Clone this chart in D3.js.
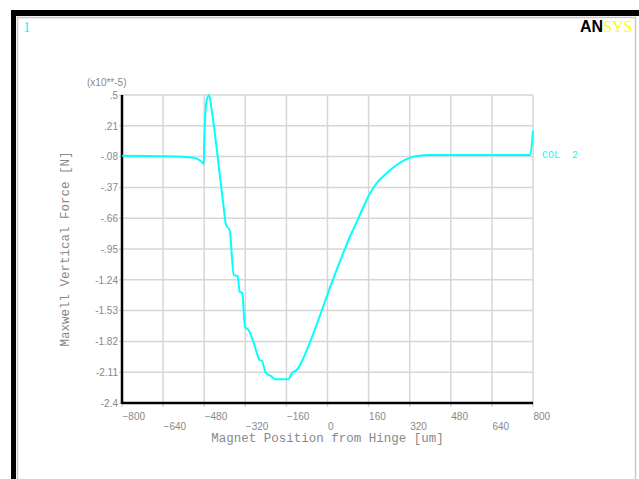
<!DOCTYPE html>
<html>
<head>
<meta charset="utf-8">
<script src="https://cdn.jsdelivr.net/npm/d3@7"></script>
<style>
  body { margin: 0; background: #fff; }
  svg { display: block; }
</style>
</head>
<body>
<div class="chart"></div>
<script>
var svgWidth = 639;
var svgHeight = 479;

// data (force in units of 1e-5 N)
var positions = [-800, -640, -522, -490, -481, -480, -470, -461, -451, -406, -395, -381, -365, -350, -342, -332,
  -321, -307, -287, -264, -255, -241, -220, -201, -153, -139, -120, -62, -23, 12, 61, 88, 114, 142, 162,
  191, 230, 269, 308, 347, 399, 788, 800];
var forces = [-0.072, -0.077, -0.09, -0.128, -0.15, 0.06, 0.453, 0.5, 0.359, -0.52, -0.724, -0.771, -1.195, -1.204,
  -1.352, -1.364, -1.682, -1.713, -1.835, -1.995, -2.004, -2.115, -2.146, -2.177, -2.177, -2.12, -2.089, -1.788,
  -1.534, -1.298, -0.99, -0.83, -0.693, -0.543, -0.442, -0.331, -0.237, -0.159, -0.103, -0.074, -0.065,
  -0.065, 0.164];

var xTicks = [-800, -640, -480, -320, -160, 0, 160, 320, 480, 640, 800];
var yTicks = [0.5, 0.21, -0.08, -0.37, -0.66, -0.95, -1.24, -1.53, -1.82, -2.11, -2.4];
var yTickLabels = [".5", ".21", "-.08", "-.37", "-.66", "-.95", "-1.24", "-1.53", "-1.82", "-2.11", "-2.4"];

var margin = { top: 95, right: 106, bottom: 76, left: 122 };
var width = svgWidth - margin.left - margin.right;
var height = svgHeight - margin.top - margin.bottom;

var svg = d3.select(".chart")
  .append("svg")
  .attr("width", svgWidth)
  .attr("height", svgHeight);

// frame like the ANSYS window
svg.append("rect").attr("x", 11).attr("y", 10).attr("width", svgWidth - 11).attr("height", svgHeight - 10).attr("fill", "#000");
svg.append("rect").attr("x", 16).attr("y", 16).attr("width", svgWidth - 16).attr("height", svgHeight - 16).attr("fill", "#fff");
svg.append("rect").attr("x", 17.5).attr("y", 17.5).attr("width", 618).attr("height", 480)
  .attr("fill", "none").attr("stroke", "#c8c8c8").attr("stroke-width", 1.5);

svg.append("text").attr("x", 23).attr("y", 32).text("1")
  .style("font", "15px 'Liberation Serif'").attr("fill", "#00ffff");
var logo = svg.append("text").attr("x", 580).attr("y", 32);
logo.append("tspan").text("AN").style("font", "bold 16px 'Liberation Sans'").attr("fill", "#000");
logo.append("tspan").text("SYS").style("font", "16px 'Liberation Serif'").attr("fill", "#ffff00");

var chartGroup = svg.append("g")
  .attr("transform", `translate(${margin.left}, ${margin.top})`);

var xScale = d3.scaleLinear().domain([-800, 800]).range([0, width]);
var yScale = d3.scaleLinear().domain([-2.4, 0.5]).range([height, 0]);

// grid
chartGroup.selectAll("line.vgrid")
  .data(xTicks)
  .enter()
  .append("line")
  .attr("x1", d => xScale(d)).attr("x2", d => xScale(d))
  .attr("y1", 0).attr("y2", height + 4)
  .attr("stroke", "#d6d6d6").attr("stroke-width", 1.5);

chartGroup.selectAll("line.hgrid")
  .data(yTicks)
  .enter()
  .append("line")
  .attr("x1", -3).attr("x2", width)
  .attr("y1", d => yScale(d)).attr("y2", d => yScale(d))
  .attr("stroke", "#d6d6d6").attr("stroke-width", 1.5);

// axes (labels only, lines drawn below)
var leftAxis = d3.axisLeft(yScale).tickValues(yTicks).tickSize(0).tickPadding(4)
  .tickFormat((d, i) => yTickLabels[i]);
var yAxisG = chartGroup.append("g").call(leftAxis);
yAxisG.select(".domain").remove();
yAxisG.selectAll("text").style("font", "10px 'Liberation Sans'").attr("fill", "#888");

var bottomAxis = d3.axisBottom(xScale).tickValues(xTicks).tickSize(0);
var xAxisG = chartGroup.append("g").attr("transform", `translate(0, ${height})`).call(bottomAxis);
xAxisG.select(".domain").remove();
xAxisG.selectAll("text")
  .attr("text-anchor", "start")
  .attr("dy", null)
  .attr("y", (d, i) => i % 2 === 0 ? 17 : 27)
  .style("font", "10px 'Liberation Sans'").attr("fill", "#888");

chartGroup.append("line").attr("x1", 0).attr("x2", 0).attr("y1", 0).attr("y2", height + 1)
  .attr("stroke", "#000").attr("stroke-width", 2.5);
chartGroup.append("line").attr("x1", 0).attr("x2", width).attr("y1", height).attr("y2", height)
  .attr("stroke", "#000").attr("stroke-width", 2.5);

// curve
var line = d3.line()
  .x((d, i) => xScale(positions[i]))
  .y(d => yScale(d))
  .curve(d3.curveMonotoneX);

chartGroup.append("path")
  .datum(forces)
  .attr("d", line)
  .attr("fill", "none")
  .attr("stroke", "#00ffff")
  .attr("stroke-width", 2)
  .attr("stroke-linejoin", "round");

// labels
chartGroup.append("text")
  .attr("x", -35).attr("y", -9)
  .text("(x10**-5)")
  .style("font", "10px 'Liberation Sans'").attr("fill", "#888");

chartGroup.append("text")
  .attr("x", width + 9).attr("y", yScale(-0.08) + 1)
  .attr("xml:space", "preserve")
  .style("white-space", "pre")
  .text("COL  2")
  .style("font", "10px 'Liberation Mono'").attr("fill", "#00ffff");

chartGroup.append("text")
  .attr("transform", `translate(${width / 2}, ${height + 39})`)
  .attr("text-anchor", "middle")
  .text("Magnet Position from Hinge [um]")
  .style("font", "12.5px 'Liberation Mono'").attr("fill", "#888");

chartGroup.append("text")
  .attr("transform", `translate(-53, ${height / 2}) rotate(-90)`)
  .attr("text-anchor", "middle")
  .text("Maxwell Vertical Force [N]")
  .style("font", "12.5px 'Liberation Mono'").attr("fill", "#888");
</script>
</body>
</html>
